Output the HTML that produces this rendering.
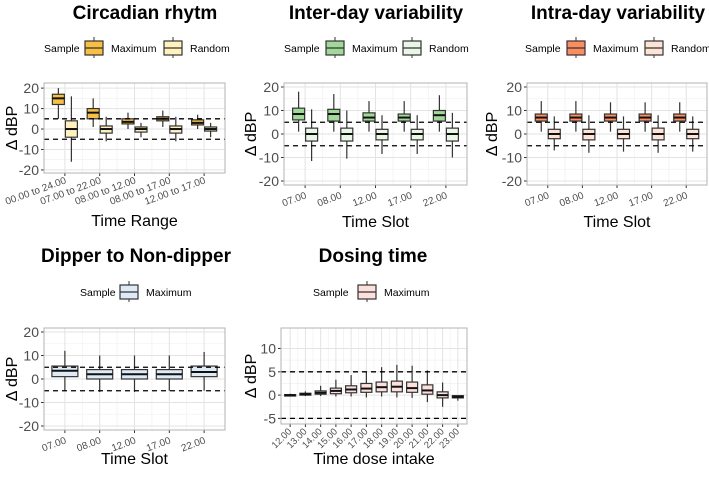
<!DOCTYPE html>
<html><head><meta charset="utf-8"><style>
body{margin:0;background:#fff;width:709px;height:472px;overflow:hidden}
svg{font-family:"Liberation Sans",sans-serif}
</style></head><body>
<svg id="s" width="709" height="472" xmlns="http://www.w3.org/2000/svg"></svg>
<script>
// ---- Data ----
const circCats=["00.00 to 24.00","07.00 to 22.00","08.00 to 12.00","08.00 to 17.00","12.00 to 17.00"];
const circMax=[[5,12,15,17,20],[1,5,8,10,15],[0,2.5,3.5,5,8],[1,4,5,6,9],[0,2,3,4.5,7]];
const circRand=[[-16,-4,0,4,16],[-6,-2,0,1.5,6],[-4,-1.5,0,1,3],[-6,-2,0,1.5,6],[-4,-1,0,1,3]];
const slotCats=["07.00","08.00","12.00","17.00","22.00"];
const interMax=[[1,6,8.5,11,18],[1,5.5,8.5,10.5,17],[1,5.5,7,9,14],[1,5.5,7,8.5,14],[1,5.5,8,10,16.5]];
const interRand=[[-11.5,-3,0,2.5,10.5],[-10.5,-3,0,2.5,10],[-8.5,-2.5,0,2,8],[-8.5,-2.5,0,2,8],[-10,-3,0,2.5,9]];
const intraMax=[[1,5.5,7,8.5,14],[1,5.5,7,8.5,14],[1,5.5,7,8.5,13.5],[1,5.5,7,8.5,13.5],[1,5.5,7,8.5,13.5]];
const intraRand=[[-7,-2,0,2,7.5],[-8,-2.5,0,2,8],[-7.5,-2,0,2,7.5],[-8,-2.5,0,2.5,8],[-7.5,-2,0,2,7.5]];
const dipMax=[[-5,1,3.5,5.5,12],[-5.5,0,2,4,10],[-5.5,0,2,4,10],[-5,0,2,4,10],[-5,1,3,5.5,11.5]];
const doseCats=["12.00","13.00","14.00","15.00","16.00","17.00","18.00","19.00","20.00","21.00","22.00","23.00"];
const doseMax=[[-0.3,-0.2,0,0.1,0.3],[-0.2,0,0.2,0.4,0.8],[-0.2,0.2,0.5,0.9,2],[-0.3,0.3,0.9,1.5,3.3],[-0.3,0.5,1.2,2,4.3],[-0.5,0.6,1.4,2.5,5],[-0.3,0.7,1.7,2.8,6],[-0.5,0.7,1.8,3,6.5],[-0.6,0.6,1.5,2.8,6.3],[-1.5,0.2,1,2.2,5.3],[-2.5,-0.6,0,0.7,2.7],[-1.2,-0.6,-0.4,-0.1,0]];
const ticks20=[-20,-10,0,10,20];
const ticksDose=[-5,0,5,10];
const refLines=[-5,5];

const S=document.getElementById('s');
const NS="http://www.w3.org/2000/svg";
function mk(tag,at,parent,txt){const e=document.createElementNS(NS,tag);for(const k in at)e.setAttribute(k,at[k]);if(txt!==undefined)e.textContent=txt;(parent||S).appendChild(e);return e;}

function panel(o){
  const g=mk('g',{});
  
  
  const t=mk('text',{x:o.tx,y:o.ty,'text-anchor':'middle','font-size':19,'font-weight':'bold',fill:'#000'},g,o.title);
  
  
  const lg=mk('g',{},g);
  
  
  mk('text',{x:o.lx,y:o.ly+4,'font-size':10.5,fill:'#000'},lg,'Sample');
  o.leg.forEach(L=>{
    const kg=mk('g',{},lg);
    
    
    mk('line',{x1:L.x+9,x2:L.x+9,y1:o.ly-11,y2:o.ly+10,stroke:'#333','stroke-width':1},kg);
    mk('rect',{x:L.x,y:o.ly-7,width:18,height:14,fill:L.fill,stroke:'#333','stroke-width':1.2},kg);
    mk('line',{x1:L.x,x2:L.x+18,y1:o.ly,y2:o.ly,stroke:'#333','stroke-width':1.2},kg);
    mk('text',{x:L.x+26,y:o.ly+4,'font-size':10.5,fill:'#000'},kg,L.label);
  });
  const {L,R,T,B,ymin,ymax}=o;
  const y=v=>B-(v-ymin)/(ymax-ymin)*(B-T);
  const n=o.cats.length, step=(R-L)/(n+0.2);
  const x=i=>L+step*0.6+i*step;
  const minor=o.ticks.slice(0,-1).map((t,i)=>(t+o.ticks[i+1])/2);
  minor.forEach(v=>mk('line',{x1:L,x2:R,y1:y(v),y2:y(v),stroke:'#f2f2f2','stroke-width':0.8},g));
  for(let i=0;i<n;i++){if(i<n-1)mk('line',{x1:(x(i)+x(i+1))/2,x2:(x(i)+x(i+1))/2,y1:T,y2:B,stroke:'#f2f2f2','stroke-width':0.8},g);}
  o.ticks.forEach(v=>{if(y(v)>=T&&y(v)<=B)mk('line',{x1:L,x2:R,y1:y(v),y2:y(v),stroke:'#e3e3e3','stroke-width':1},g);});
  for(let i=0;i<n;i++)mk('line',{x1:x(i),x2:x(i),y1:T,y2:B,stroke:'#e3e3e3','stroke-width':1},g);
  o.ticks.forEach(v=>{
    const tl=mk('text',{x:L-5,y:y(v)+5,'text-anchor':'end','font-size':14,fill:'#4d4d4d'},g,String(v));
    
    
    mk('line',{x1:L-3,x2:L,y1:y(v),y2:y(v),stroke:'#333','stroke-width':1},g);
  });
  o.cats.forEach((c,i)=>{
    mk('line',{x1:x(i),x2:x(i),y1:B,y2:B+3,stroke:'#333','stroke-width':1},g);
    const tl=mk('text',{x:x(i)+2,y:B+o.xly,'text-anchor':'end','font-size':o.xfs,fill:'#4d4d4d',transform:`rotate(${o.rot} ${x(i)+2} ${B+o.xly})`},g,c);
    
    
  });
  const xt=mk('text',{x:(L+R)/2,y:o.xty,'text-anchor':'middle','font-size':16,fill:'#000'},g,o.xtitle);
  
  
  const yt=mk('text',{x:o.ytx,y:(T+B)/2,'text-anchor':'middle','font-size':16,fill:'#000',transform:`rotate(-90 ${o.ytx} ${(T+B)/2})`},g,'Δ dBP');
  
  
  const ns=o.series.length, bw=o.bw;
  o.series.forEach((s,si)=>{
    s.data.forEach((d,i)=>{
      const cx=x(i)+(ns===2?(si===0?-bw/2-0.5:bw/2+0.5):0);
      const bg=mk('g',{},g);
      
      
      mk('line',{x1:cx,x2:cx,y1:y(d[0]),y2:y(d[4]),stroke:'#333','stroke-width':1.2},bg);
      mk('rect',{x:cx-bw/2,y:y(d[3]),width:bw,height:Math.max(1,y(d[1])-y(d[3])),fill:s.fill,stroke:'#333','stroke-width':1.2},bg);
      mk('line',{x1:cx-bw/2,x2:cx+bw/2,y1:y(d[2]),y2:y(d[2]),stroke:'#111','stroke-width':2},bg);
    });
  });
  refLines.forEach(v=>{
    const rl=mk('line',{x1:L,x2:R,y1:y(v),y2:y(v),stroke:'#000','stroke-width':1.3,'stroke-dasharray':'5,4'},g);
    
    
  });
  mk('rect',{x:L,y:T,width:R-L,height:B-T,fill:'none',stroke:'#b3b3b3','stroke-width':1},g);
}

panel({name:'circadian',title:'Circadian rhytm',tx:145,ty:19,lx:44,ly:48,
  leg:[{x:85,label:'Maximum',fill:'#F8BF45'},{x:164,label:'Random',fill:'#FEF3BF'}],
  L:44,R:225,T:83,B:173,ymin:-21.5,ymax:22.5,ticks:ticks20,cats:circCats,
  series:[{label:'Maximum',fill:'#F8BF45',data:circMax},{label:'Random',fill:'#FEF3BF',data:circRand}],
  bw:12,rot:-20,xly:10,xfs:10,xtitle:'Time Range',xty:226,ytx:17});
panel({name:'inter-day',title:'Inter-day variability',tx:376,ty:19,lx:284,ly:48,
  leg:[{x:326,label:'Maximum',fill:'#A1D99B'},{x:403,label:'Random',fill:'#EAF6E6'}],
  L:284,R:467,T:83,B:185,ymin:-21.7,ymax:21.7,ticks:ticks20,cats:slotCats,
  series:[{label:'Maximum',fill:'#A1D99B',data:interMax},{label:'Random',fill:'#EAF6E6',data:interRand}],
  bw:12,rot:-20,xly:13,xfs:10,xtitle:'Time Slot',xty:227,ytx:256});
panel({name:'intra-day',title:'Intra-day variability',tx:618,ty:19,lx:525,ly:48,
  leg:[{x:567,label:'Maximum',fill:'#FC8D62'},{x:645,label:'Random',fill:'#FEE4D6'}],
  L:527,R:707,T:83,B:185,ymin:-21.7,ymax:21.7,ticks:ticks20,cats:slotCats,
  series:[{label:'Maximum',fill:'#FC8D62',data:intraMax},{label:'Random',fill:'#FEE4D6',data:intraRand}],
  bw:12,rot:-20,xly:13,xfs:10,xtitle:'Time Slot',xty:227,ytx:497});
panel({name:'dipper',title:'Dipper to Non-dipper',tx:136,ty:262,lx:80,ly:292,
  leg:[{x:120,label:'Maximum',fill:'#DEEBF7'}],
  L:44,R:225,T:328,B:430,ymin:-21.7,ymax:21.7,ticks:ticks20,cats:slotCats,
  series:[{label:'Maximum',fill:'#DEEBF7',data:dipMax}],
  bw:26,rot:-20,xly:13,xfs:10,xtitle:'Time Slot',xty:464,ytx:17});
panel({name:'dosing',title:'Dosing time',tx:373,ty:262,lx:313,ly:292,
  leg:[{x:358,label:'Maximum',fill:'#FDE0DD'}],
  L:281,R:467,T:328,B:424,ymin:-6.2,ymax:14.4,ticks:ticksDose,cats:doseCats,
  series:[{label:'Maximum',fill:'#FDE0DD',data:doseMax}],
  bw:11,rot:-45,xly:8,xfs:9.5,xtitle:'Time dose intake',xty:464,ytx:256});
</script>
</body></html>
